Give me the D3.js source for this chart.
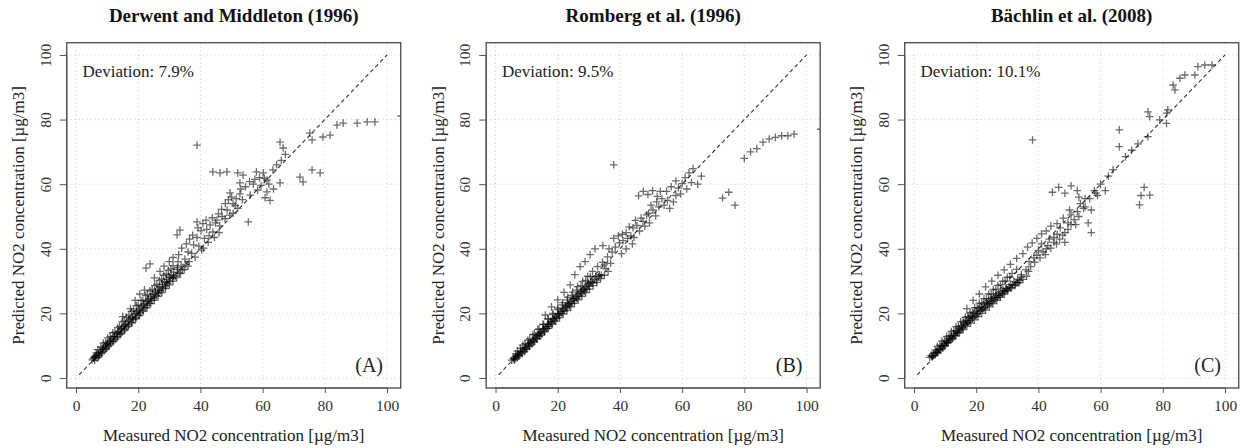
<!DOCTYPE html>
<html><head><meta charset="utf-8">
<script src="https://cdn.jsdelivr.net/npm/d3@7"></script>
<style>body{margin:0;background:#fff}</style>
</head><body>
<script>
const titles = ["Derwent and Middleton (1996)", "Romberg et al. (1996)", "Bächlin et al. (2008)"];
const deviations = ["Deviation: 7.9%", "Deviation: 9.5%", "Deviation: 10.1%"];
const panelTags = ["(A)", "(B)", "(C)"];
const tickValues = [0, 20, 40, 60, 80, 100];
const xTitle = "Measured NO2 concentration [µg/m3]";
const yTitle = "Predicted NO2 concentration [µg/m3]";

// [measured, predicted]
const pointsA = [
[5.2,5.6],[5.6,6.1],[6.0,5.4],[6.3,6.8],[6.8,6.2],[7.1,7.4],[7.5,6.9],[7.9,8.3],[8.2,7.6],[8.6,8.9],[9.0,8.4],[9.3,9.9],[9.7,9.2],[10.1,10.6],[10.4,9.8],[10.8,11.3],[11.2,10.7],[11.5,12.1],[11.9,11.3],[12.3,12.8],[12.6,12.0],[13.0,13.6],[13.4,12.9],[13.7,14.4],[14.1,13.6],[14.5,15.1],[14.8,14.2],[15.2,15.9],[15.6,15.1],[15.9,16.7],[16.3,15.8],[16.7,17.4],[17.0,16.5],[17.4,18.3],[17.8,17.2],[18.1,19.0],[18.5,18.1],[18.9,19.8],[19.2,18.7],[19.6,20.6],[20.0,19.5],[20.3,21.4],[20.7,20.2],[21.1,22.1],[21.4,21.0],[21.8,22.9],[22.2,21.8],[22.5,23.7],[22.9,22.5],[23.3,24.4],[23.6,23.2],[24.0,25.2],[24.4,24.0],[24.7,26.0],[25.1,24.8],[25.5,26.7],[25.8,25.5],[26.2,27.5],[26.6,26.3],[26.9,28.2],[27.3,27.0],[27.7,29.0],[28.0,27.8],[28.4,29.8],[28.8,28.5],[29.1,30.5],[29.5,29.3],[29.9,31.3],[30.2,30.0],[30.6,32.0],[31.0,30.8],[31.4,32.8],[32.0,31.6],[32.6,33.6],[33.2,32.5],
[6.5,7.8],[8.0,9.6],[9.5,11.0],[11.0,12.8],[12.5,14.2],[14.0,16.0],[15.5,17.6],[17.0,19.5],[18.5,21.0],[20.0,22.6],[21.5,24.0],[23.0,25.8],[24.5,27.4],[26.0,29.0],[27.5,30.6],[29.0,32.2],[30.5,33.8],
[6.0,6.6],[7.2,6.5],[8.4,8.0],[9.6,8.9],[10.8,10.2],[12.0,11.4],[13.2,12.4],[14.4,13.7],[15.6,14.7],[16.8,16.0],[18.0,17.0],[19.2,18.3],[20.4,19.3],[21.6,20.6],[22.8,21.7],[24.0,23.0],[25.2,24.0],[26.4,25.3],[27.6,26.4],[28.8,27.7],[30.0,28.8],[31.2,30.0],[32.4,31.1],[33.6,32.3],[34.8,33.6],[36.0,34.6],
[7.0,8.8],[8.8,10.8],[10.2,12.4],[11.8,14.0],[13.4,15.6],[14.8,17.4],[16.2,18.8],[17.8,20.6],[19.4,22.4],[20.9,24.0],[22.4,25.5],[23.8,27.0],[25.3,28.6],[26.8,30.2],[28.2,31.8],[29.7,33.3],[31.2,34.8],[32.8,36.0],
[5.8,6.3],[6.6,7.0],[7.4,7.8],[8.6,9.3],[9.9,10.3],[11.0,11.6],[12.2,12.9],[13.4,13.8],[14.6,15.4],[15.8,16.3],[17.0,17.9],[18.2,18.6],[19.4,20.1],[20.6,21.0],[21.8,22.5],[23.0,23.8],[24.2,24.6],[25.4,25.9],[26.6,27.1],[27.8,28.3],[29.0,29.6],[30.2,31.1],[31.4,31.6],[32.6,34.2],[33.8,34.7],[35.0,36.8],
[15.0,19.0],[17.5,21.5],[19.0,24.0],[20.5,26.0],[22.0,27.2],[22.5,34.0],[23.8,35.3],[25.2,31.0],[27.0,33.0],[28.3,34.6],[30.0,36.0],[31.2,37.3],[33.0,38.2],[34.0,40.2],[32.5,44.3],[33.4,45.8],
[34.2,33.4],[35.3,35.2],[36.4,36.0],[37.2,38.6],[38.3,37.4],[39.5,40.8],[40.4,39.6],[36.0,39.0],[37.8,41.2],[38.9,43.5],[38.9,48.3],[40.2,45.6],[41.3,43.2],[42.0,46.0],[43.1,47.4],[44.0,45.2],[44.8,48.0],[45.3,48.9],[46.2,47.1],[47.0,50.0],[47.9,49.3],[48.6,52.0],[49.4,50.4],[50.5,51.0],[51.2,53.4],[52.0,52.5],[50.5,54.0],[49.5,57.3],[52.7,57.0],[53.5,55.2],[55.4,48.3],[56.0,56.6],[57.0,60.0],[58.4,58.2],[59.5,59.6],[60.6,61.8],[61.4,57.6],[62.4,55.0],[61.4,61.3],[60.2,63.5],[65.6,60.4],[52.7,60.4],
[35.5,41.5],[36.5,43.0],[37.5,44.2],[39.2,46.5],[40.8,47.8],[41.8,48.9],[42.8,44.0],[43.8,49.6],[45.8,50.8],[46.8,52.2],[48.0,54.0],[49.0,55.2],[50.0,56.0],[51.5,55.5],[53.0,58.5],[54.5,59.2],[55.8,60.8],[57.5,61.5],[59.0,62.0],[62.0,60.0],[63.5,58.5],[60.8,55.8],[41.0,40.2],[42.5,42.0],[44.5,43.5],[46.0,45.0],
[44.0,63.8],[46.3,63.5],[48.5,63.8],[52.0,63.5],[53.7,62.8],[58.0,63.8],[63.3,64.4],[64.5,66.0],[66.0,67.4],[67.3,69.2],[72.0,62.2],[73.0,60.7],[75.9,64.4],[78.5,63.5],
[38.9,72.1],[65.6,73.0],[66.6,71.2],[75.2,75.8],[75.9,73.7],[79.4,74.6],[81.7,75.2],[83.9,78.3],[85.9,78.9],[90.4,78.9],[93.6,79.3],[96.1,79.3],[104.6,81.1]
];

const pointsB = [
[5.2,5.5],[5.7,6.0],[6.1,5.5],[6.5,6.7],[6.9,6.2],[7.3,7.3],[7.7,6.8],[8.1,8.1],[8.5,7.5],[8.9,8.7],[9.3,8.2],[9.7,9.5],[10.1,9.0],[10.5,10.3],[10.9,9.8],[11.3,11.0],[11.7,10.5],[12.1,11.8],[12.5,11.3],[12.9,12.6],[13.3,12.1],[13.7,13.4],[14.1,12.9],[14.5,14.2],[14.9,13.7],[15.3,15.0],[15.7,14.5],[16.1,15.8],[16.5,15.3],[16.9,16.6],[17.3,16.1],[17.7,17.4],[18.1,16.9],[18.5,18.2],[18.9,17.7],[19.3,19.0],[19.7,18.5],[20.1,19.8],[20.5,19.3],[20.9,20.6],[21.3,20.1],[21.7,21.4],[22.1,20.9],[22.5,22.1],[22.9,21.6],[23.3,22.9],[23.7,22.4],[24.1,23.6],[24.5,23.1],[24.9,24.4],[25.3,23.9],[25.7,25.1],[26.1,24.6],[26.5,25.9],[26.9,25.4],[27.3,26.6],[27.7,26.1],[28.1,27.4],[28.5,26.9],[28.9,28.1],[29.3,27.6],[29.7,28.9],[30.1,28.4],[30.6,29.7],[31.2,29.4],[31.8,30.6],[32.5,30.3],[33.2,31.4],[34.0,31.8],
[6.5,7.5],[8.0,9.2],[9.5,10.6],[11.0,12.2],[12.5,13.6],[14.0,15.2],[15.5,16.6],[17.0,18.2],[18.5,19.6],[20.0,21.2],[21.5,22.6],[23.0,24.2],[24.5,25.6],[26.0,27.2],[27.5,28.6],[29.0,30.2],[30.5,31.4],
[6.2,5.8],[7.4,6.9],[8.6,8.0],[9.8,8.9],[11.0,10.0],[12.2,11.1],[13.4,12.2],[14.6,13.2],[15.8,14.3],[17.0,15.4],[18.2,16.6],[19.4,17.6],[20.6,18.7],[21.8,19.8],[23.0,20.9],[24.2,22.0],[25.4,23.1],[26.6,24.2],[27.8,25.3],[29.0,26.4],[30.2,27.5],[31.4,28.6],[32.6,29.6],[33.8,30.8],[35.0,31.8],[36.2,33.0],
[7.0,8.3],[8.8,10.2],[10.4,11.7],[12.0,13.4],[13.6,15.0],[15.2,16.6],[16.8,18.3],[18.4,20.0],[20.0,21.7],[21.6,23.3],[23.2,25.0],[24.8,26.6],[26.4,28.3],[28.0,29.9],[29.6,31.5],[31.2,33.0],[32.8,34.5],[34.4,35.8],
[5.9,6.2],[7.0,7.0],[8.2,8.4],[9.4,9.3],[10.6,10.8],[11.8,11.6],[13.0,13.1],[14.2,13.8],[15.4,15.3],[16.6,16.0],[17.8,17.6],[19.0,18.3],[20.2,19.9],[21.4,20.6],[22.6,22.3],[23.8,22.9],[25.0,24.6],[26.2,25.1],[27.4,26.9],[28.6,27.4],[29.8,29.3],[31.0,29.8],[32.2,31.5],[33.4,32.0],[35.5,33.8],[37.0,35.5],
[16.0,19.5],[18.0,22.0],[20.0,24.2],[22.0,26.5],[24.0,28.8],[25.5,32.0],[27.2,34.5],[28.8,36.0],[30.4,38.2],[32.0,40.0],[34.5,41.0],[36.0,37.5],[37.5,39.0],[35.0,35.0],[38.0,43.2],[39.8,41.8],[40.8,44.5],[42.0,45.0],[43.5,44.0],[44.2,46.5],[45.5,47.2],[46.3,45.5],[47.4,48.5],[48.6,50.5],[49.5,48.0],[50.6,52.0],[51.5,50.2],[52.5,53.0],
[36.5,40.0],[38.5,40.5],[39.5,44.0],[41.0,42.5],[42.5,43.2],[43.0,46.8],[44.5,43.5],[45.0,48.8],[46.8,49.5],[48.0,47.0],[49.2,51.0],[50.0,53.5],[51.8,54.5],[53.5,55.5],[55.0,57.8],[56.5,59.2],[58.0,61.0],[59.5,57.0],[61.5,58.5],[63.0,60.5],[40.5,38.5],[42.0,40.0],[44.0,41.5],
[38.0,66.0],[46.0,56.4],[47.5,57.8],[49.0,56.8],[50.5,58.0],[52.0,56.2],[53.0,57.8],[54.2,53.5],[55.3,55.0],[56.0,52.5],[57.2,54.5],[58.0,56.5],[58.8,58.8],[60.0,60.2],[61.0,62.0],[62.2,63.5],[63.5,64.8],[65.0,60.0],[66.2,62.5],[73.0,55.7],[75.0,57.5],[77.0,53.5],
[80.0,68.0],[82.0,70.0],[84.0,71.0],[86.0,73.0],[88.0,74.0],[90.0,74.5],[92.0,75.0],[94.0,75.0],[96.0,75.5],[104.6,77.0]
];

const pointsC = [
[5.0,6.4],[5.5,7.0],[5.9,6.5],[6.3,7.6],[6.8,7.1],[7.2,8.3],[7.6,7.8],[8.0,9.0],[8.4,8.5],[8.8,9.8],[9.2,9.3],[9.6,10.6],[10.0,10.0],[10.4,11.4],[10.8,10.8],[11.2,12.2],[11.6,11.6],[12.0,13.0],[12.4,12.4],[12.8,13.8],[13.2,13.2],[13.6,14.6],[14.0,14.0],[14.4,15.4],[14.8,14.8],[15.2,16.2],[15.6,15.6],[16.0,17.0],[16.4,16.4],[16.8,17.8],[17.2,17.1],[17.6,18.6],[18.0,17.8],[18.4,19.3],[18.8,18.5],[19.2,20.0],[19.6,19.2],[20.0,20.7],[20.4,19.9],[20.8,21.4],[21.2,20.6],[21.6,22.1],[22.0,21.3],[22.4,22.8],[22.8,21.9],[23.2,23.4],[23.6,22.5],[24.0,24.0],[24.4,23.1],[24.8,24.6],[25.2,23.7],[25.6,25.1],[26.0,24.3],[26.4,25.6],[26.8,24.9],[27.2,26.1],[27.6,25.5],[28.0,26.6],[28.4,26.1],[28.8,27.1],[29.2,26.7],[29.6,27.6],[30.0,27.3],[30.5,28.2],[31.0,27.9],[31.6,28.8],[32.2,28.6],[32.8,29.5],[33.4,29.4],[34.0,30.2],
[6.8,8.6],[8.3,10.2],[9.8,11.6],[11.3,13.0],[12.8,14.6],[14.3,16.0],[15.8,17.5],[17.3,19.0],[18.8,20.4],[20.3,21.8],[21.8,23.2],[23.3,24.6],[24.8,26.0],[26.3,27.4],[27.8,28.8],[29.3,30.0],[30.8,31.2],
[6.2,6.9],[7.4,7.8],[8.6,8.9],[9.8,9.9],[11.0,11.0],[12.2,12.0],[13.4,13.0],[14.6,14.0],[15.8,15.0],[17.0,16.0],[18.2,17.0],[19.4,18.0],[20.6,19.0],[21.8,20.0],[23.0,21.0],[24.2,22.0],[25.4,23.0],[26.6,24.0],[27.8,25.0],[29.0,26.0],[30.2,27.0],[31.4,28.0],[32.6,28.8],[33.8,29.6],[35.0,30.5],[36.2,31.5],
[7.5,9.8],[9.0,11.4],[10.5,12.9],[12.0,14.4],[13.5,15.9],[15.0,17.4],[16.5,18.8],[18.0,20.2],[19.5,21.8],[21.0,23.2],[22.5,24.6],[24.0,26.0],[25.5,27.4],[27.0,28.7],[28.5,30.0],[30.0,31.2],[31.5,32.4],[33.0,33.6],
[5.7,6.8],[6.9,7.9],[8.1,8.9],[9.3,10.1],[10.5,11.0],[11.7,12.3],[12.9,13.2],[14.1,14.5],[15.3,15.3],[16.5,16.6],[17.7,17.4],[18.9,18.8],[20.1,19.5],[21.3,20.9],[22.5,21.5],[23.7,22.9],[24.9,23.5],[26.1,24.9],[27.3,25.6],[28.5,26.9],[29.7,27.7],[30.9,28.9],[32.1,29.9],[33.3,30.6],[34.5,31.2],[36.8,33.0],
[17.0,21.5],[19.0,24.0],[21.0,26.0],[23.0,28.2],[25.0,30.0],[27.0,31.8],[29.0,33.5],[31.0,35.2],[33.0,37.0],[35.0,38.5],[34.5,32.0],[36.0,33.5],[37.0,36.0],[38.5,37.2],[40.0,39.5],[41.0,41.5],[42.5,40.0],[43.5,43.0],[45.0,42.0],[46.0,44.5],[47.0,46.5],[48.5,45.0],[49.5,48.0],[50.5,50.5],[52.0,47.5],[53.0,50.0],[54.5,52.5],[56.0,48.0],[57.0,45.0],
[37.5,34.5],[38.8,35.8],[39.5,38.0],[40.5,37.2],[41.5,39.0],[42.2,38.2],[43.0,41.0],[44.0,40.2],[45.0,43.5],[45.8,41.5],[46.8,43.0],[47.8,44.2],[48.5,42.0],[49.5,46.0],[50.5,47.5],[51.5,49.0],[52.5,51.5],[53.5,54.0],[55.0,53.0],[56.5,55.5],[58.5,57.2],[36.5,40.5],[38.0,41.8],[39.5,43.2],[41.0,44.6],[42.5,45.5],[44.0,47.0],[46.0,47.8],[48.0,49.5],[50.0,52.0],[53.0,56.0],
[38.1,73.7],[44.5,57.5],[46.5,59.0],[48.5,57.2],[50.5,59.5],[52.5,58.0],[55.0,55.5],[57.0,52.0],[58.0,58.0],[59.0,56.5],[60.0,60.0],[61.5,58.0],[62.5,62.5],[64.0,64.5],[66.0,71.6],[66.0,76.8],[68.0,68.5],[70.0,70.5],[72.5,53.6],[73.0,56.5],[74.0,59.0],[75.8,56.6],[72.0,72.5],[75.2,74.7],
[75.2,82.4],[75.8,80.9],[79.0,79.9],[81.2,82.0],[81.2,78.8],[81.6,83.0],[83.3,90.7],[83.9,89.2],[85.5,92.8],[87.1,93.8],[90.3,93.8],[91.3,96.4],[93.5,96.9],[95.8,96.9]
];

const allPoints = [pointsA, pointsB, pointsC];
const offsets = [0, 419.5, 838];

const W = 1241, H = 448;
const svg = d3.select("body").append("svg").attr("width", W).attr("height", H)
  .style("font-family", "'Liberation Serif', 'DejaVu Serif', serif");

const box = {left: 66.7, right: 400.7, top: 42.7, bottom: 388};
const x = d3.scaleLinear().domain([-3, 104.4]).range([box.left, box.right]);
const y = d3.scaleLinear().domain([-3.1, 103.8]).range([box.bottom, box.top]);

allPoints.forEach((pts, i) => {
  const g = svg.append("g").attr("transform", `translate(${offsets[i]},0)`);
  const clipId = "clip" + i;
  g.append("clipPath").attr("id", clipId).append("rect")
    .attr("x", box.left).attr("y", box.top)
    .attr("width", box.right - box.left).attr("height", box.bottom - box.top);

  // grid
  const grid = g.append("g").attr("stroke", "#c8c8c8").attr("stroke-dasharray", "1,3").attr("stroke-width", 1);
  tickValues.forEach(t => {
    grid.append("line").attr("x1", x(t)).attr("x2", x(t)).attr("y1", box.top).attr("y2", box.bottom);
    grid.append("line").attr("y1", y(t)).attr("y2", y(t)).attr("x1", box.left).attr("x2", box.right);
  });

  // 1:1 line
  g.append("line").attr("x1", x(1)).attr("y1", y(1)).attr("x2", x(100)).attr("y2", y(100))
    .attr("stroke", "#333").attr("stroke-width", 1.1).attr("stroke-dasharray", "4,3");

  // points
  g.append("g").attr("clip-path", `url(#${clipId})`)
    .selectAll("path").data(pts).join("path")
    .attr("d", d => {
      const cx = x(d[0]), cy = y(d[1]), r = 3.8;
      return `M${cx - r},${cy}H${cx + r}M${cx},${cy - r}V${cy + r}`;
    })
    .attr("stroke", "#000").attr("stroke-opacity", 0.58).attr("stroke-width", 1.3).attr("fill", "none");

  // box
  g.append("rect").attr("x", box.left).attr("y", box.top)
    .attr("width", box.right - box.left).attr("height", box.bottom - box.top)
    .attr("fill", "none").attr("stroke", "#555").attr("stroke-width", 1.4);

  // x axis
  const xa = g.append("g").attr("transform", `translate(0,${box.bottom})`)
    .call(d3.axisBottom(x).tickValues(tickValues).tickSize(5).tickPadding(4));
  xa.select(".domain").attr("d", `M${x(0)},0H${x(100)}`).attr("stroke", "#555").attr("stroke-width", 1.2);
  xa.selectAll(".tick line").attr("stroke", "#555");
  xa.selectAll(".tick text").attr("font-family", "'Liberation Serif', serif").attr("font-size", 15.5).attr("fill", "#333").attr("dy", "0.9em");

  // y axis
  const ya = g.append("g").attr("transform", `translate(${box.left},0)`)
    .call(d3.axisLeft(y).tickValues(tickValues).tickSize(7).tickPadding(6));
  ya.select(".domain").attr("d", `M0,${y(0)}V${y(100)}`).attr("stroke", "#555").attr("stroke-width", 1.2);
  ya.selectAll(".tick line").attr("stroke", "#555");
  ya.selectAll(".tick text")
    .attr("font-family", "'Liberation Serif', serif").attr("font-size", 15.5).attr("fill", "#333")
    .attr("x", null).attr("dy", null)
    .attr("transform", "translate(-16,0) rotate(-90)")
    .attr("text-anchor", "middle").attr("dominant-baseline", "auto").attr("y", 0);

  // titles
  g.append("text").attr("x", (box.left + box.right) / 2).attr("y", 22)
    .attr("text-anchor", "middle").attr("font-weight", "bold").attr("font-size", 19).attr("fill", "#111")
    .text(titles[i]);
  g.append("text").attr("x", (box.left + box.right) / 2).attr("y", 441)
    .attr("text-anchor", "middle").attr("font-size", 17).attr("fill", "#222").text(xTitle);
  g.append("text").attr("transform", `translate(24,${(box.top + box.bottom) / 2}) rotate(-90)`)
    .attr("text-anchor", "middle").attr("font-size", 17).attr("fill", "#222").text(yTitle);

  g.append("text").attr("x", 82.5).attr("y", 77).attr("font-size", 17).attr("fill", "#222").text(deviations[i]);
  g.append("text").attr("x", 383).attr("y", 372).attr("text-anchor", "end").attr("font-size", 20).attr("fill", "#222").text(panelTags[i]);
});
</script>
</body></html>
